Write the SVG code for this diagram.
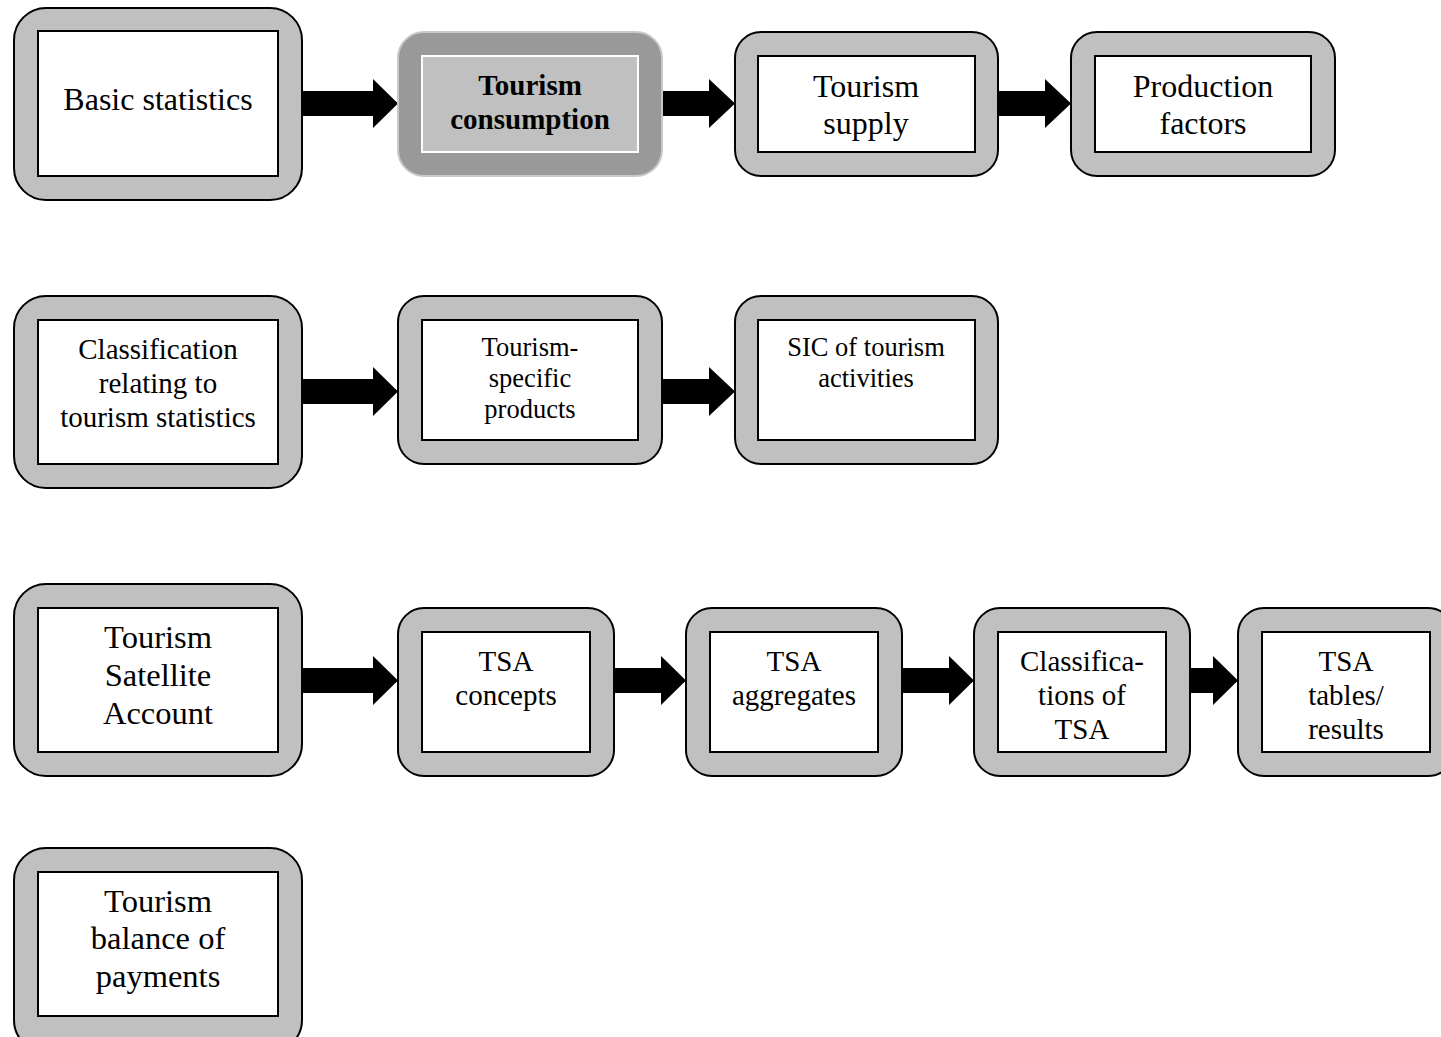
<svg xmlns="http://www.w3.org/2000/svg" width="1441" height="1037" viewBox="0 0 1441 1037">
<style>
.o{fill:#c0c0c0;stroke:#000;stroke-width:2}
.i{fill:#fff;stroke:#000;stroke-width:2}
.t{font-family:"Liberation Serif","Times New Roman",serif;fill:#000;text-anchor:middle}
.a{fill:#000}
</style>
<rect width="1441" height="1037" fill="#fff"/>
<g id="connectors">
<polygon class="a" points="302,91 373,91 373,79 398,103.5 373,128 373,116 302,116"/>
<polygon class="a" points="662,91 709,91 709,79 735,103.5 709,128 709,116 662,116"/>
<polygon class="a" points="998,91 1045,91 1045,79 1071,103.5 1045,128 1045,116 998,116"/>
<polygon class="a" points="302,379 373,379 373,367 398,391.5 373,416 373,404 302,404"/>
<polygon class="a" points="662,379 709,379 709,367 735,391.5 709,416 709,404 662,404"/>
<polygon class="a" points="302,668 373,668 373,656 398,680.5 373,705 373,693 302,693"/>
<polygon class="a" points="614,668 661,668 661,656 686,680.5 661,705 661,693 614,693"/>
<polygon class="a" points="902,668 949,668 949,656 974,680.5 949,705 949,693 902,693"/>
<polygon class="a" points="1190,668 1213,668 1213,656 1238,680.5 1213,705 1213,693 1190,693"/>
</g>
<g id="n1"><rect class="o" x="14" y="8" width="288" height="192" rx="32"/><rect class="i" x="38" y="31" width="240" height="145"/>
<text class="t" font-size="32" x="158" y="110">Basic statistics</text></g>
<g id="n2"><rect x="398" y="32" width="264" height="144" rx="26" fill="#999" stroke="#c8c8c8" stroke-width="2"/><rect x="422" y="56" width="216" height="96" fill="#c0c0c0" stroke="#fff" stroke-width="2"/>
<text class="t" font-size="29" font-weight="bold" x="530" y="95">Tourism</text><text class="t" font-size="29" font-weight="bold" x="530" y="129">consumption</text></g>
<g id="n3"><rect class="o" x="735" y="32" width="263" height="144" rx="26"/><rect class="i" x="758" y="56" width="217" height="96"/>
<text class="t" font-size="32" x="866" y="97">Tourism</text><text class="t" font-size="32" x="866" y="134">supply</text></g>
<g id="n4"><rect class="o" x="1071" y="32" width="264" height="144" rx="26"/><rect class="i" x="1095" y="56" width="216" height="96"/>
<text class="t" font-size="32" x="1203" y="97">Production</text><text class="t" font-size="32" x="1203" y="134">factors</text></g>
<g id="n5"><rect class="o" x="14" y="296" width="288" height="192" rx="32"/><rect class="i" x="38" y="320" width="240" height="144"/>
<text class="t" font-size="29" x="158" y="358.5">Classification</text><text class="t" font-size="29" x="158" y="392.5">relating to</text><text class="t" font-size="29" x="158" y="426.5">tourism statistics</text></g>
<g id="n6"><rect class="o" x="398" y="296" width="264" height="168" rx="26"/><rect class="i" x="422" y="320" width="216" height="120"/>
<text class="t" font-size="26.5" x="530" y="356">Tourism-</text><text class="t" font-size="26.5" x="530" y="387">specific</text><text class="t" font-size="26.5" x="530" y="418">products</text></g>
<g id="n7"><rect class="o" x="735" y="296" width="263" height="168" rx="26"/><rect class="i" x="758" y="320" width="217" height="120"/>
<text class="t" font-size="26.5" x="866" y="356">SIC of tourism</text><text class="t" font-size="26.5" x="866" y="387">activities</text></g>
<g id="n8"><rect class="o" x="14" y="584" width="288" height="192" rx="32"/><rect class="i" x="38" y="608" width="240" height="144"/>
<text class="t" font-size="32.5" x="158" y="648">Tourism</text><text class="t" font-size="32.5" x="158" y="686">Satellite</text><text class="t" font-size="32.5" x="158" y="724">Account</text></g>
<g id="n9"><rect class="o" x="398" y="608" width="216" height="168" rx="26"/><rect class="i" x="422" y="632" width="168" height="120"/>
<text class="t" font-size="29" x="506" y="670.5">TSA</text><text class="t" font-size="29" x="506" y="704.5">concepts</text></g>
<g id="n10"><rect class="o" x="686" y="608" width="216" height="168" rx="26"/><rect class="i" x="710" y="632" width="168" height="120"/>
<text class="t" font-size="29" x="794" y="670.5">TSA</text><text class="t" font-size="29" x="794" y="704.5">aggregates</text></g>
<g id="n11"><rect class="o" x="974" y="608" width="216" height="168" rx="26"/><rect class="i" x="998" y="632" width="168" height="120"/>
<text class="t" font-size="29" x="1082" y="670.5">Classifica-</text><text class="t" font-size="29" x="1082" y="704.5">tions of</text><text class="t" font-size="29" x="1082" y="738.5">TSA</text></g>
<g id="n12"><rect class="o" x="1238" y="608" width="216" height="168" rx="26"/><rect class="i" x="1262" y="632" width="168" height="120"/>
<text class="t" font-size="29" x="1346" y="670.5">TSA</text><text class="t" font-size="29" x="1346" y="704.5">tables/</text><text class="t" font-size="29" x="1346" y="738.5">results</text></g>
<g id="n13"><rect class="o" x="14" y="848" width="288" height="204" rx="32"/><rect class="i" x="38" y="872" width="240" height="144"/>
<text class="t" font-size="32.5" x="158" y="912">Tourism</text><text class="t" font-size="32.5" x="158" y="949">balance of</text><text class="t" font-size="32.5" x="158" y="987">payments</text></g>
</svg>
